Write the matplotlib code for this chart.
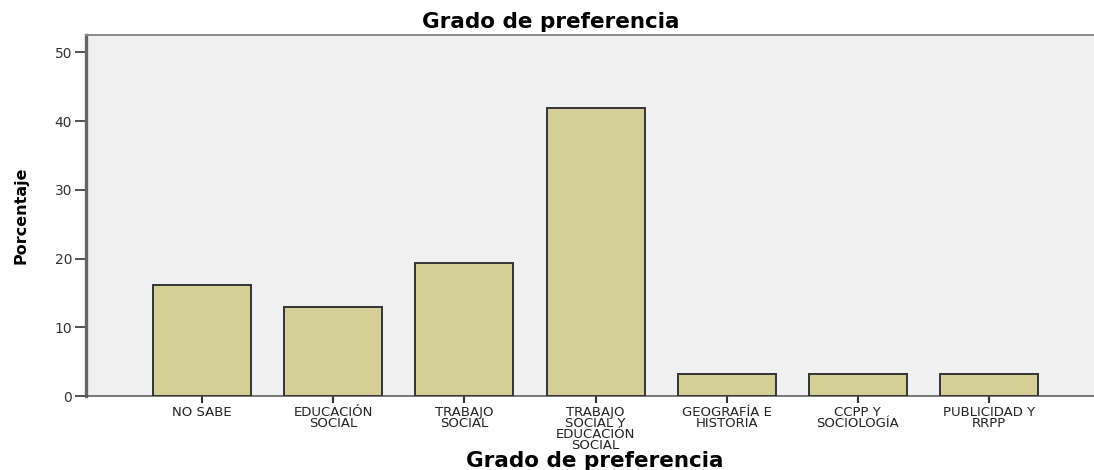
import matplotlib
matplotlib.use("Agg")
import matplotlib.pyplot as plt

# Porcentaje por grado de preferencia
categorias = ["NO SABE", "EDUCACIÓN\nSOCIAL", "TRABAJO\nSOCIAL",
              "TRABAJO\nSOCIAL Y\nEDUCACIÓN\nSOCIAL", "GEOGRAFÍA E\nHISTORIA",
              "CCPP Y\nSOCIOLOGÍA", "PUBLICIDAD Y\nRRPP"]
porcentajes = [16.13, 12.90, 19.35, 41.94, 3.23, 3.23, 3.23]
yticks = [0, 10, 20, 30, 40, 50]

fig = plt.figure(figsize=(10.94, 4.70), dpi=100)
ax = fig.add_axes([0.0786, 0.1574, 0.9214, 0.768])
ax.set_facecolor("#f0f0f0")

x = list(range(len(categorias)))
ax.bar(x, porcentajes, width=0.747, color="#d3cf97", edgecolor="#333333",
       linewidth=1.4, zorder=3)

ax.set_xlim(-0.884, 6.80)
ax.set_ylim(0, 52.5)
ax.set_yticks(yticks)
ax.set_xticks(x)
ax.set_xticklabels(categorias, fontsize=9.5, linespacing=0.82, color="#222222")
ax.tick_params(axis="y", length=8, width=1.2, color="#333333",
               labelsize=10, labelcolor="#333333", pad=2)
ax.tick_params(axis="x", length=5, width=1.5, color="#333333", pad=2)

ax.spines["right"].set_visible(False)
ax.spines["left"].set_color("#666666")
ax.spines["left"].set_linewidth(2.4)
ax.spines["top"].set_color("#8a8a8a")
ax.spines["top"].set_linewidth(1.4)
ax.spines["bottom"].set_color("#555555")
ax.spines["bottom"].set_linewidth(1.1)

fig.text(0.503, 0.953, "Grado de preferencia", ha="center", va="center",
         fontsize=15.5, fontweight="bold")
fig.text(0.544, 0.019, "Grado de preferencia", ha="center", va="center",
         fontsize=15.5, fontweight="bold")
fig.text(0.019, 0.541, "Porcentaje", ha="center", va="center", rotation=90,
         fontsize=11.5, fontweight="bold",
         family=["DejaVu Sans Condensed", "DejaVu Sans"])

fig.savefig("out.png", dpi=100)
